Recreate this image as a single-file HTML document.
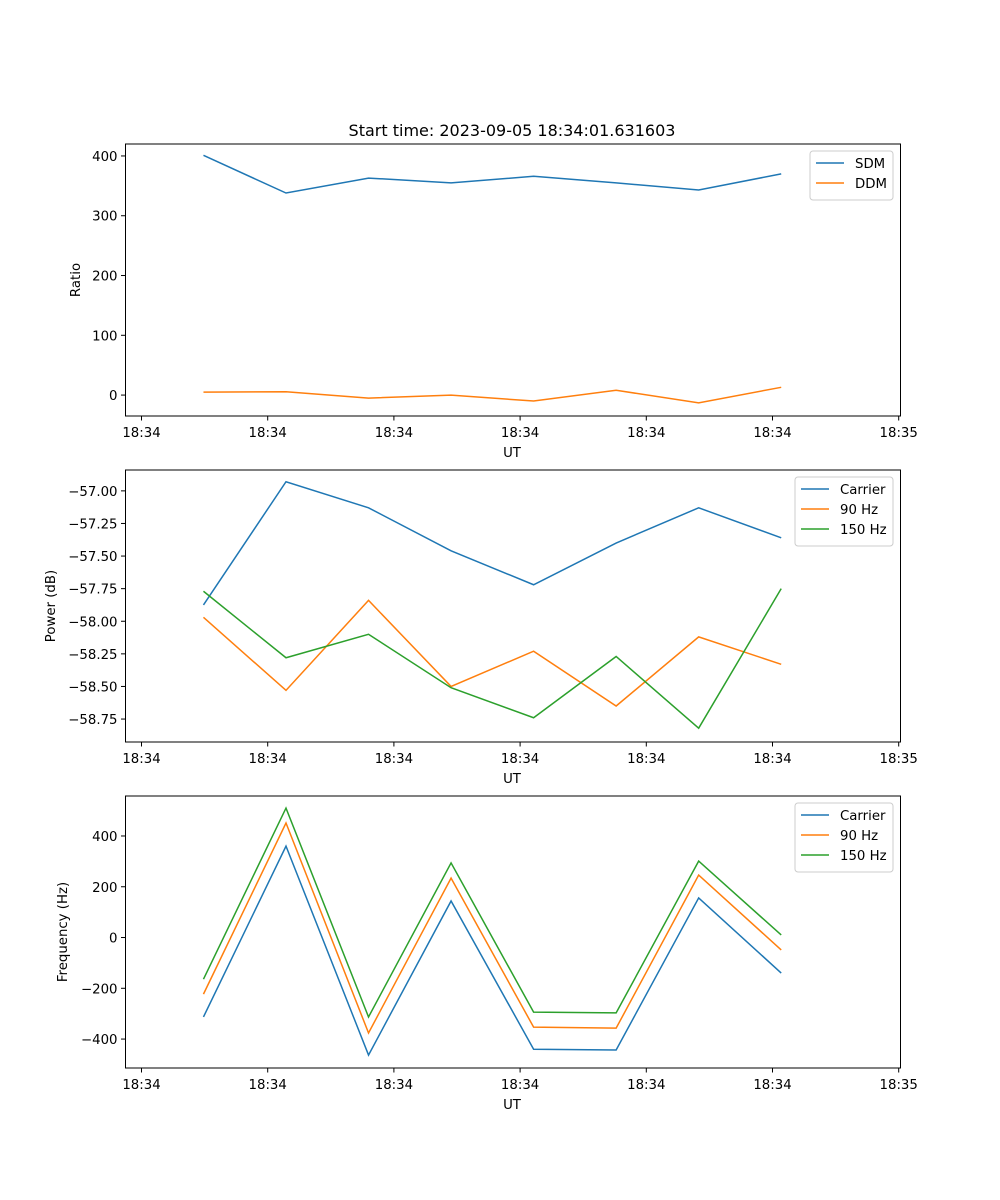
<!DOCTYPE html>
<html><head><meta charset="utf-8"><style>
body{margin:0;background:#fff;}
svg{display:block;font-family:"DejaVu Sans","Liberation Sans",sans-serif;}
</style></head><body>
<svg id="fig" width="1000" height="1200" viewBox="0 0 1000 1200" xmlns="http://www.w3.org/2000/svg">
<rect width="1000" height="1200" fill="#fff"/>
<text x="512" y="136" font-size="16" text-anchor="middle">Start time: 2023-09-05 18:34:01.631603</text>
</svg>
<script>
const xTickLabels = ["18:34","18:34","18:34","18:34","18:34","18:34","18:35"];
const xTickVals = [0,1,2,3,4,5,6];
const times = [0.491,1.145,1.799,2.453,3.107,3.761,4.415,5.069];
const sdm = [401,338,363,355,366,355,343,370];
const ddm = [5,5.5,-5,0,-10,8,-13,13];
const pwrCarrier = [-57.875,-56.93,-57.13,-57.46,-57.72,-57.40,-57.13,-57.36];
const pwr90 = [-57.97,-58.53,-57.84,-58.50,-58.23,-58.65,-58.12,-58.33];
const pwr150 = [-57.77,-58.28,-58.10,-58.51,-58.74,-58.27,-58.82,-57.75];
const frqCarrier = [-313,360,-463,144,-440,-443,156,-140];
const frq90 = [-223,451,-376,234,-353,-357,246,-49];
const frq150 = [-164,510,-313,294,-294,-297,301,10];
const ratioTicks = [0,100,200,300,400];
const powerTicks = [-57.00,-57.25,-57.50,-57.75,-58.00,-58.25,-58.50,-58.75];
const freqTicks = [-400,-200,0,200,400];

const NS="http://www.w3.org/2000/svg";
const svg=document.getElementById('fig');
function mk(tag,attrs,parent){const e=document.createElementNS(NS,tag);for(const k in attrs)e.setAttribute(k,attrs[k]);(parent||svg).appendChild(e);return e;}
const L=125.5,R=900.5;
const xs=v=>141.5+v*126.2;
const C=['#1f77b4','#ff7f0e','#2ca02c'];

function panel(name,top,bot,ymin,ymax,yticks,fmt,ylabel,series,legend,legX,legW){
  const g=mk('g',{});
  
  
  const ys=v=>bot-(v-ymin)/(ymax-ymin)*(bot-top);
  // series
  series.forEach((s,i)=>{
    const p=mk('polyline',{points:s.data.map((v,j)=>xs(times[j])+','+ys(v)).join(' '),fill:'none',stroke:C[i],'stroke-width':1.5},g);
    
    
  });
  const fr=mk('rect',{x:L,y:top,width:R-L,height:bot-top,fill:'none',stroke:'#000','stroke-width':1},g);
  
  
  xTickVals.forEach((v,i)=>{
    const x=xs(v);
    mk('line',{x1:x,x2:x,y1:bot,y2:bot+4.5,stroke:'#000'},g);
    const t=mk('text',{x:x,y:bot+21,'font-size':13.3,'text-anchor':'middle'},g);
    t.textContent=xTickLabels[i];
    
    
  });
  const xl=mk('text',{x:512,y:bot+41,'font-size':13.3,'text-anchor':'middle'},g);
  xl.textContent='UT';
  
  
  yticks.forEach(v=>{
    const y=ys(v);
    mk('line',{x1:L-4.5,x2:L,y1:y,y2:y,stroke:'#000'},g);
    const t=mk('text',{x:L-8,y:y+5,'font-size':13.3,'text-anchor':'end'},g);
    t.textContent=fmt(v);
    
    
  });
  const yl=mk('text',{x:0,y:0,'font-size':13.3,'text-anchor':'middle',transform:`translate(${ylabel.x},${(top+bot)/2}) rotate(-90)`},g);
  yl.textContent=ylabel.t;
  
  
  // legend
  const lg=mk('g',{},g);
  
  
  mk('rect',{x:legX,y:top+7,width:legW,height:legend.length*20+9,rx:3,fill:'#fff',stroke:'#ccc','fill-opacity':0.8},lg);
  legend.forEach((lab,i)=>{
    const y=top+19+i*20;
    mk('line',{x1:legX+6,x2:legX+34,y1:y,y2:y,stroke:C[i],'stroke-width':1.5},lg);
    const t=mk('text',{x:legX+45,y:y+5,'font-size':13.3},lg);
    t.textContent=lab;
    
    
  });
}
panel('ratio',144,416,-35,420,ratioTicks,v=>String(v),{x:80,t:'Ratio'},
  [{key:'sdm',data:sdm},{key:'ddm',data:ddm}],['SDM','DDM'],810,83);
panel('power',470,742,-58.926,-56.84,powerTicks,v=>(v<0?'\u2212':'')+Math.abs(v).toFixed(2),{x:55,t:'Power (dB)'},
  [{key:'carrier',data:pwrCarrier},{key:'90hz',data:pwr90},{key:'150hz',data:pwr150}],['Carrier','90 Hz','150 Hz'],795,98);
panel('frequency',796,1068,-514,557.5,freqTicks,v=>(v<0?'\u2212':'')+Math.abs(v),{x:67,t:'Frequency (Hz)'},
  [{key:'carrier',data:frqCarrier},{key:'90hz',data:frq90},{key:'150hz',data:frq150}],['Carrier','90 Hz','150 Hz'],795,98);
</script>
</body></html>
